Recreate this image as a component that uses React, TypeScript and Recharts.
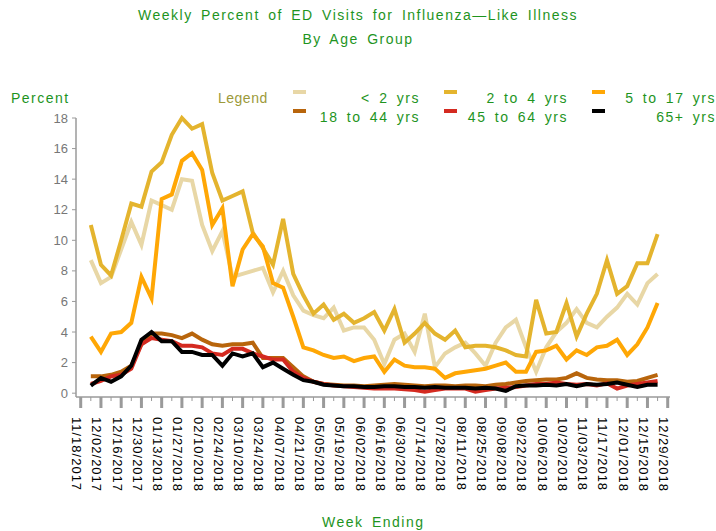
import { LineChart, Line, XAxis, YAxis } from "recharts";

const weeks = [
  "11/18/2017", "11/25/2017", "12/02/2017", "12/09/2017", "12/16/2017", "12/23/2017",
  "12/30/2017", "01/06/2018", "01/13/2018", "01/20/2018", "01/27/2018", "02/03/2018",
  "02/10/2018", "02/17/2018", "02/24/2018", "03/03/2018", "03/10/2018", "03/17/2018",
  "03/24/2018", "03/31/2018", "04/07/2018", "04/14/2018", "04/21/2018", "04/28/2018",
  "05/05/2018", "05/12/2018", "05/19/2018", "05/26/2018", "06/02/2018", "06/09/2018",
  "06/16/2018", "06/23/2018", "06/30/2018", "07/07/2018", "07/14/2018", "07/21/2018",
  "07/28/2018", "08/04/2018", "08/11/2018", "08/18/2018", "08/25/2018", "09/01/2018",
  "09/08/2018", "09/15/2018", "09/22/2018", "09/29/2018", "10/06/2018", "10/13/2018",
  "10/20/2018", "10/27/2018", "11/03/2018", "11/10/2018", "11/17/2018", "11/24/2018",
  "12/01/2018", "12/08/2018", "12/15/2018", "12/22/2018", "12/29/2018",
];

// percent of ED visits, first and last week have no value
const under2 = [
  null, 8.7, 7.2, 7.6, 9.4, 11.2, 9.7, 12.6, 12.3, 12.0, 14.0, 13.9, 11.0, 9.3, 10.6,
  7.6, 7.8, 8.0, 8.2, 6.6, 8.0, 6.4, 5.4, 5.1, 4.9, 5.6, 4.1, 4.3, 4.3, 3.5,
  1.9, 3.5, 3.9, 2.7, 5.2, 1.7, 2.6, 3.0, 3.3, 2.6, 1.8, 3.3, 4.3, 4.8, 3.0,
  1.4, 3.0, 4.0, 4.6, 5.5, 4.6, 4.3, 5.0, 5.6, 6.5, 5.8, 7.2, 7.8, null,
];
const age2to4 = [
  null, 11.0, 8.4, 7.7, 10.0, 12.4, 12.2, 14.5, 15.1, 16.9, 18.0, 17.3, 17.6, 14.4, 12.6,
  12.9, 13.2, 10.5, 9.5, 8.4, 11.4, 7.8, 6.4, 5.2, 5.8, 4.8, 5.2, 4.6, 4.9, 5.3,
  4.1, 5.5, 3.3, 3.9, 4.6, 3.9, 3.5, 4.1, 3.0, 3.1, 3.1, 3.0, 2.8, 2.5, 2.4,
  6.1, 3.9, 4.0, 5.9, 3.7, 5.2, 6.5, 8.7, 6.5, 7.0, 8.5, 8.5, 10.4, null,
];
const age5to17 = [
  null, 3.7, 2.7, 3.9, 4.0, 4.6, 7.6, 6.2, 12.7, 13.0, 15.2, 15.7, 14.6, 11.0, 12.1,
  7.0, 9.4, 10.4, 9.6, 7.2, 6.9, 5.0, 3.0, 2.8, 2.5, 2.3, 2.4, 2.1, 2.3, 2.4,
  1.4, 2.2, 1.8, 1.7, 1.7, 1.6, 1.0, 1.3, 1.4, 1.5, 1.6, 1.8, 2.0, 1.4, 1.4,
  2.7, 2.8, 3.1, 2.2, 2.8, 2.5, 3.0, 3.1, 3.5, 2.5, 3.2, 4.3, 5.9, null,
];
const age18to44 = [
  null, 1.1, 1.1, 1.2, 1.4, 1.8, 3.2, 3.9, 3.9, 3.8, 3.6, 3.9, 3.5, 3.2, 3.1,
  3.2, 3.2, 3.3, 2.3, 2.3, 2.3, 1.7, 1.1, 0.75, 0.6, 0.55, 0.5, 0.5, 0.45, 0.5,
  0.55, 0.6, 0.55, 0.5, 0.45, 0.5, 0.5, 0.45, 0.5, 0.5, 0.45, 0.55, 0.6, 0.7, 0.8,
  0.85, 0.9, 0.9, 1.0, 1.3, 1.0, 0.9, 0.85, 0.85, 0.75, 0.8, 1.0, 1.2, null,
];
const age45to64 = [
  null, 0.6, 0.8, 1.1, 1.2, 1.6, 3.2, 3.6, 3.5, 3.4, 3.1, 3.1, 3.0, 2.6, 2.5,
  2.9, 2.9, 2.6, 2.4, 2.2, 2.2, 1.4, 1.0, 0.75, 0.6, 0.5, 0.45, 0.4, 0.35, 0.3,
  0.3, 0.3, 0.25, 0.2, 0.1, 0.2, 0.3, 0.3, 0.3, 0.1, 0.2, 0.3, 0.35, 0.4, 0.5,
  0.6, 0.6, 0.7, 0.6, 0.55, 0.6, 0.5, 0.65, 0.3, 0.5, 0.6, 0.7, 0.8, null,
];
const age65plus = [
  null, 0.5, 1.0, 0.75, 1.1, 1.8, 3.5, 4.0, 3.4, 3.4, 2.7, 2.7, 2.5, 2.5, 1.8,
  2.6, 2.4, 2.6, 1.7, 2.0, 1.6, 1.2, 0.85, 0.75, 0.55, 0.5, 0.45, 0.45, 0.4, 0.4,
  0.45, 0.45, 0.4, 0.4, 0.35, 0.4, 0.35, 0.35, 0.35, 0.3, 0.35, 0.3, 0.15, 0.45, 0.5,
  0.5, 0.55, 0.5, 0.6, 0.45, 0.6, 0.55, 0.6, 0.7, 0.55, 0.4, 0.55, 0.55, null,
];

const yTicks = [0, 2, 4, 6, 8, 10, 12, 14, 16, 18];

const series = [
  { key: "under2", name: "< 2 yrs", color: "#E8D7A6", values: under2 },
  { key: "age2to4", name: "2 to 4 yrs", color: "#E4B42E", values: age2to4 },
  { key: "age5to17", name: "5 to 17 yrs", color: "#FFA705", values: age5to17 },
  { key: "age18to44", name: "18 to 44 yrs", color: "#B8650C", values: age18to44 },
  { key: "age45to64", name: "45 to 64 yrs", color: "#D42A20", values: age45to64 },
  { key: "age65plus", name: "65+ yrs", color: "#000000", values: age65plus },
];

const data = weeks.map((week, i) => {
  const row: Record<string, string | number | null> = { week };
  series.forEach((s) => {
    row[s.key] = s.values[i];
  });
  return row;
});

const FONT = '"Liberation Sans", Arial, sans-serif';
const GREEN = "#1E941E";

// tall tick + rotated label every other week, short tick otherwise
const WeekTick = (props: any) => {
  const { x, y, payload, index } = props;
  const major = index % 2 === 0;
  return (
    <g>
      <line
        x1={x}
        x2={x}
        y1={y}
        y2={y + (major ? 11 : 4)}
        stroke="#9a9a9a"
        strokeWidth={major ? 3 : 1}
      />
      {major && (
        <text
          transform={`translate(${x - 4},${y + 20}) rotate(90)`}
          dy="0.35em"
          fontSize={13}
          letterSpacing={1}
          fontFamily={FONT}
          fill="#000"
        >
          {payload.value}
        </text>
      )}
    </g>
  );
};

const textStyle = {
  position: "absolute" as const,
  fontFamily: FONT,
  fontSize: 14,
  lineHeight: "14px",
  letterSpacing: 1.5,
  wordSpacing: 3,
  whiteSpace: "nowrap" as const,
  color: GREEN,
};

const legendCols = [
  { swatch: 293, right: 420 },
  { swatch: 444, right: 568 },
  { swatch: 592, right: 716 },
];
const legendRows = [92, 111];

export default function App() {
  return (
    <div
      style={{
        position: "absolute",
        left: 0,
        top: 0,
        width: 716,
        height: 531,
        background: "#fff",
        overflow: "hidden",
      }}
    >
      <div style={{ ...textStyle, top: 8, left: 0, width: 716, textAlign: "center" }}>
        Weekly Percent of ED Visits for Influenza—Like Illness
      </div>
      <div style={{ ...textStyle, top: 32, left: 0, width: 716, textAlign: "center" }}>
        By Age Group
      </div>
      <div style={{ ...textStyle, top: 91, left: 11 }}>Percent</div>
      <div style={{ ...textStyle, top: 91, left: 218, color: "#9C9A3A", letterSpacing: 0.5 }}>
        Legend
      </div>
      {series.map((s, i) => {
        const col = legendCols[i % 3];
        const top = legendRows[Math.floor(i / 3)];
        return (
          <div key={s.key}>
            <div
              style={{
                position: "absolute",
                left: col.swatch,
                top: top - 2,
                width: 13,
                height: 4,
                background: s.color,
              }}
            />
            <div style={{ ...textStyle, top: top - 1, right: 716 - col.right, textAlign: "right" }}>
              {s.name}
            </div>
          </div>
        );
      })}
      <div style={{ ...textStyle, top: 515, left: 322 }}>Week Ending</div>

      <LineChart
        width={716}
        height={531}
        data={data}
        margin={{ top: 118, right: 46, bottom: 34, left: 46 }}
        style={{ position: "absolute", left: 0, top: 0 }}
      >
        <XAxis
          dataKey="week"
          interval={0}
          height={100}
          padding={{ left: 4.7, right: 2.3 }}
          axisLine={{ stroke: "#9a9a9a", strokeWidth: 1.5 }}
          tickLine={false}
          tickSize={0}
          tickMargin={0}
          tick={<WeekTick />}
        />
        <YAxis
          domain={[-0.25, 18]}
          ticks={yTicks}
          width={30}
          axisLine={{ stroke: "#9a9a9a", strokeWidth: 1.5 }}
          tickLine={{ stroke: "#9a9a9a" }}
          tickSize={4}
          tickMargin={4}
          tick={{ fill: "#777", fontSize: 13, fontFamily: FONT }}
        />
        {series.map((s) => (
          <Line
            key={s.key}
            type="linear"
            dataKey={s.key}
            name={s.name}
            stroke={s.color}
            strokeWidth={4}
            dot={false}
            isAnimationActive={false}
          />
        ))}
      </LineChart>
    </div>
  );
}
